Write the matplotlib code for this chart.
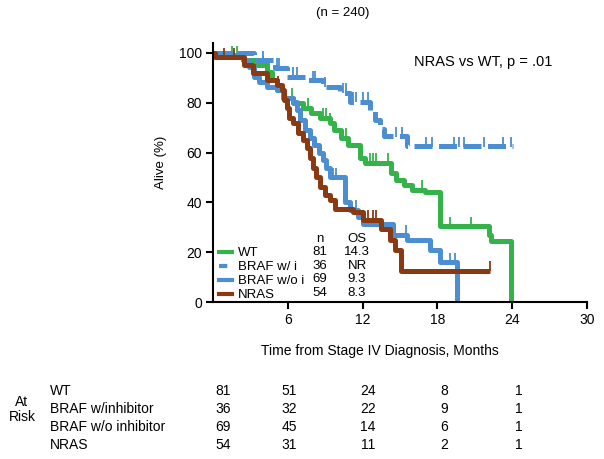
import matplotlib
matplotlib.use("Agg")
import matplotlib.pyplot as plt
from matplotlib.lines import Line2D
import numpy as np

plt.rcParams['font.family'] = ['Liberation Sans', 'DejaVu Sans']

# step curves: time (months), percent alive
wt_t = [0, 1.0, 2.4, 3.5, 4.3, 4.7, 5.1, 5.6, 6.4, 7.2, 7.9, 8.6, 9.4, 9.7, 10.3,
        10.8, 11.8, 12.2, 14.3, 14.7, 15.3, 16.0, 17.0, 18.2, 22.1, 22.3, 23.9]
wt_s = [100, 99, 97, 95, 92.5, 89, 85, 82, 80, 78, 76, 74, 72, 69, 66,
        63, 58, 56, 52, 49, 47, 45, 44, 30.5, 27, 24.5, 0]
wt_c = [1.5, 1.9, 4.0, 4.5, 6.3, 7.6, 8.8, 9.1, 9.4, 10.7, 12.6, 12.8, 13.1,
        14.0, 14.4, 16.8, 19.0, 20.7]

bi_t = [0, 3.3, 5.0, 5.9, 7.5, 8.8, 10.2, 11.0, 12.6, 13.0, 13.4, 13.7, 15.6, 24.1]
bi_s = [100, 97, 94, 90.5, 89, 86.5, 84, 80.5, 76.5, 73, 69.5, 66.5, 62.5, 62.5]
bi_c = [4.0, 5.1, 5.3, 6.4, 6.7, 8.0, 8.2, 9.0, 10.4, 10.7, 11.2, 11.5, 12.0,
        12.4, 14.7, 15.2, 15.6, 17.1, 17.6, 19.3, 19.7, 20.1, 21.7, 23.3, 23.9]

bo_t = [0, 1.5, 2.4, 2.9, 3.3, 3.7, 4.3, 5.1, 5.6, 6.4, 6.7, 7.0, 7.4, 7.8, 8.1,
        8.5, 8.8, 9.1, 9.4, 10.6, 11.0, 11.6, 12.0, 14.4, 15.6, 17.4, 18.2, 19.6]
bo_s = [100, 99, 97, 94.5, 90.5, 88.5, 86.5, 85, 82, 80.5, 77, 73, 69, 66, 63,
        60, 57, 54, 50, 40, 37, 34, 31.5, 27, 25, 21, 16, 0]
bo_c = [4.5, 9.6, 9.9, 11.5, 15.5, 17.6, 19.0, 19.4]

nr_t = [0, 0.2, 2.5, 3.2, 4.3, 5.1, 5.5, 5.7, 5.9, 6.1, 6.4, 6.8, 7.2, 7.5, 7.8,
        8.0, 8.3, 8.6, 9.0, 9.4, 9.8, 11.2, 12.0, 13.5, 14.2, 14.6, 15.1, 22.2]
nr_s = [100, 98.2, 95, 92, 89, 87, 85, 81, 78, 74, 72, 68, 65, 62, 58,
        54, 50, 46, 43, 41, 37.5, 36, 33, 29.5, 25, 21, 12.5, 12.5]
nr_c = [0.9, 1.7, 5.2, 12.4, 12.8, 13.1, 22.2]

names = ['WT', 'BRAF w/ i', 'BRAF w/o i', 'NRAS']
n_vals = ['81', '36', '69', '54']
os_vals = ['14.3', 'NR', '9.3', '8.3']

risk_names = ['WT', 'BRAF w/inhibitor', 'BRAF w/o inhibitor', 'NRAS']
risk = [[81, 51, 24, 8, 1],
        [36, 32, 22, 9, 1],
        [69, 45, 14, 6, 1],
        [54, 31, 11, 2, 1]]

green = '#35b34a'
blue = '#4b8ed2'
brown = '#8a3a12'

W, H = 604, 459
fig = plt.figure(figsize=(W / 100, H / 100), dpi=100)
ax = fig.add_axes([213 / W, 1 - 302 / H, 374 / W, 259 / H])

def step_at(t, s, c):
    t = np.array(t); s = np.array(s)
    idx = np.searchsorted(t, c, side='right') - 1
    return s[idx]

groups = [(wt_t, wt_s, wt_c, green, '-'),
          (bi_t, bi_s, bi_c, blue, (0, (3.6, 1.3))),
          (bo_t, bo_s, bo_c, blue, '-'),
          (nr_t, nr_s, nr_c, brown, '-')]

lw = 3.6
for t, s, c, col, ls in groups:
    ax.step(t, s, where='post', color=col, lw=lw, ls=ls, solid_capstyle='butt')
    cy = step_at(t, s, c)
    ax.plot(c, cy + 1.8, ls='none', marker='|', ms=7.5, mew=1.3, color=col)

handles = [Line2D([], [], color=green, lw=3),
           Line2D([], [], color=blue, lw=3, ls=(0, (2.0, 1.2, 0.8, 1.2))),
           Line2D([], [], color=blue, lw=3),
           Line2D([], [], color=brown, lw=3)]
ax.legend(handles, names, loc='lower left', bbox_to_anchor=(0.008, -0.008),
          frameon=False, fontsize=9.5, handlelength=1.0, handletextpad=0.45,
          labelspacing=0.14, borderpad=0.2, borderaxespad=0)

# n / OS columns of the legend
rows_y = [252, 266, 279, 293]
ax.text((320 - 213) / 374, (302 - 239) / 259, 'n', transform=ax.transAxes,
        ha='center', va='center', fontsize=9.5)
ax.text((357 - 213) / 374, (302 - 239) / 259, 'OS', transform=ax.transAxes,
        ha='center', va='center', fontsize=9.5)
for y, nv, ov in zip(rows_y, n_vals, os_vals):
    ax.text((320 - 213) / 374, (302 - y) / 259, nv, transform=ax.transAxes,
            ha='center', va='center', fontsize=9.5)
    ax.text((357 - 213) / 374, (302 - y) / 259, ov, transform=ax.transAxes,
            ha='center', va='center', fontsize=9.5)

ax.text(0.723, 0.925, 'NRAS vs WT, p = .01', transform=ax.transAxes,
        ha='center', va='center', fontsize=10.5)

ax.set_xlim(0, 30)
ax.set_ylim(0, 104)
ax.set_xticks([6, 12, 18, 24, 30])
ax.set_yticks([0, 20, 40, 60, 80, 100])
ax.tick_params(labelsize=10, length=5, width=1.5, pad=3)
for sp in ['top', 'right']:
    ax.spines[sp].set_visible(False)
for sp in ['left', 'bottom']:
    ax.spines[sp].set_linewidth(1.5)

ax.set_xlabel('Time from Stage IV Diagnosis, Months', fontsize=10)
ax.xaxis.set_label_coords((380 - 213) / 374, (302 - 344) / 259)
ax.set_ylabel('Alive (%)', fontsize=9.5)
ax.yaxis.set_label_coords((167 - 213) / 374, (302 - 162) / 259)

fig.text(343 / W, 1 - 13 / H, '(n = 240)', ha='center', va='center', fontsize=9.5)

# at-risk table
fig.text(22 / W, 1 - 402 / H, 'At', ha='center', va='center', fontsize=10)
fig.text(22 / W, 1 - 417 / H, 'Risk', ha='center', va='center', fontsize=10)
col_x = [223, 289, 368, 444, 519]
row_y = [391, 409, 427, 445]
for name, vals, y in zip(risk_names, risk, row_y):
    fig.text(50 / W, 1 - y / H, name, ha='left', va='center', fontsize=10)
    for v, x in zip(vals, col_x):
        fig.text(x / W, 1 - y / H, str(v), ha='center', va='center', fontsize=10)

fig.savefig('out.png', dpi=100)
